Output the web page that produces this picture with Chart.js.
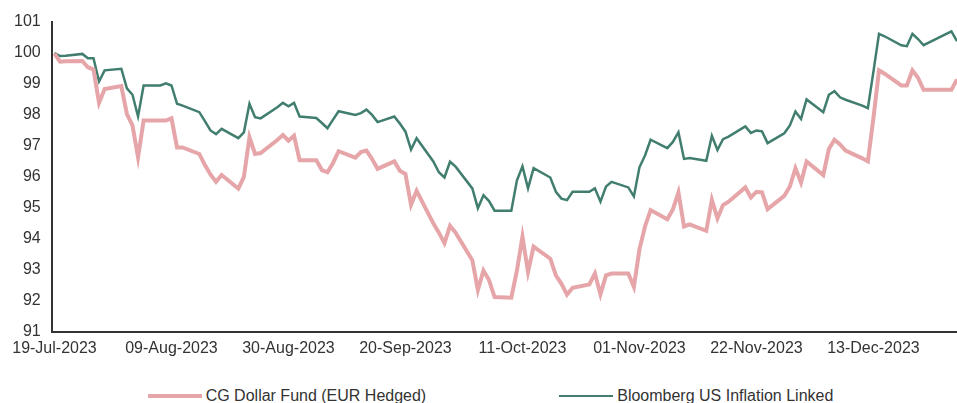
<!DOCTYPE html>
<html>
<head>
<meta charset="utf-8">
<script src="https://cdn.jsdelivr.net/npm/chart.js@4.4.0/dist/chart.umd.min.js"></script>
<style>
  body { margin: 0; background: #fff; overflow: hidden; }
  .wrap { position: relative; width: 957px; height: 373px; }
  #legend {
    position: absolute; top: 386px; left: 0; width: 957px; box-sizing: border-box;
    padding-left: 24px; display: flex; justify-content: center; gap: 133px;
    font: 16px 'Liberation Sans', Arial, sans-serif; line-height: 20px; color: #333;
  }
  .item { display: flex; align-items: center; white-space: nowrap; }
  .swatch { width: 54px; margin-right: 4px; }
</style>
</head>
<body>
<div class="wrap"><canvas id="grafica"></canvas></div>
<div id="legend"></div>
<script>
const seriesNames = ['CG Dollar Fund (EUR Hedged)', 'Bloomberg US Inflation Linked'];
const colors = ['#e6a5a8', '#417e6f'];
const widths = [4, 2.5];

// trading days (weekdays) between these dates
const startDate = '2023-07-19';
const endDate = '2023-12-28';

const tickLabels = ['19-Jul-2023', '09-Aug-2023', '30-Aug-2023', '20-Sep-2023',
                    '11-Oct-2023', '01-Nov-2023', '22-Nov-2023', '13-Dec-2023'];

const cgFund = [
  99.98, 99.72, 99.73,
  99.74, 99.54, 99.47, 98.39, 98.84,
  98.93, 98.03, 97.66, 96.63, 97.82,
  97.82, 97.82, 97.89, 96.95, 96.95,
  96.74, 96.38, 96.08, 95.84, 96.06,
  95.62, 96.00, 97.28, 96.74, 96.77,
  97.19, 97.35, 97.17, 97.33, 96.54,
  96.54, 96.22, 96.15, 96.45, 96.83,
  96.62, 96.80, 96.85, 96.58, 96.26,
  96.50, 96.20, 96.09, 95.10, 95.55,
  94.50, 94.20, 93.86, 94.42, 94.20,
  93.31, 92.35, 92.98, 92.67, 92.12,
  92.10, 92.97, 94.07, 92.93, 93.75,
  93.36, 92.82, 92.55, 92.20, 92.42,
  92.53, 92.88, 92.21, 92.82, 92.88,
  92.88, 92.45, 93.66, 94.40, 94.93,
  94.63, 94.95, 95.50, 94.40, 94.47,
  94.26, 95.26, 94.66, 95.09, 95.20,
  95.66, 95.34, 95.52, 95.50, 94.96,
  95.39, 95.69, 96.28, 95.82, 96.50,
  96.06, 96.90, 97.20, 97.05, 96.85,
  96.60, 96.50, 97.90, 99.44, 99.33,
  98.95, 98.95, 99.44, 99.20, 98.81,
  98.81, 98.81, 98.81, 99.15
];

const bloomberg = [
  100.00, 99.90, 99.91,
  99.97, 99.83, 99.83, 99.08, 99.44,
  99.49, 98.86, 98.65, 97.95, 98.95,
  98.95, 99.02, 98.95, 98.36, 98.30,
  98.09, 97.80, 97.50, 97.38, 97.55,
  97.25, 97.44, 98.36, 97.93, 97.89,
  98.25, 98.39, 98.28, 98.39, 97.95,
  97.90, 97.74, 97.57, 97.85, 98.12,
  98.00, 98.06, 98.17, 98.00, 97.77,
  97.95, 97.72, 97.46, 96.88, 97.25,
  96.50, 96.15, 95.98, 96.49, 96.33,
  95.63, 94.99, 95.41, 95.22, 94.91,
  94.91, 95.88, 96.34, 95.63, 96.28,
  95.98, 95.52, 95.30, 95.25, 95.52,
  95.52, 95.63, 95.20, 95.69, 95.84,
  95.66, 95.37, 96.31, 96.69, 97.20,
  96.93, 97.13, 97.44, 96.58, 96.61,
  96.52, 97.33, 96.87, 97.22, 97.30,
  97.63, 97.42, 97.50, 97.47, 97.09,
  97.41, 97.66, 98.11, 97.87, 98.50,
  98.09, 98.65, 98.77, 98.57, 98.49,
  98.30, 98.22, 99.40, 100.62, 100.54,
  100.25, 100.22, 100.62, 100.45, 100.25,
  100.52, 100.61, 100.70, 100.38
];

const DAY = 86400000;
const months = ['Jan', 'Feb', 'Mar', 'Apr', 'May', 'Jun', 'Jul', 'Aug', 'Sep', 'Oct', 'Nov', 'Dec'];
const toUTC = s => { const [y, m, d] = s.split('-').map(Number); return Date.UTC(y, m - 1, d); };
const t0 = toUTC(startDate);

const dayOffsets = [];
for (let t = t0; t <= toUTC(endDate); t += DAY) {
  const wd = new Date(t).getUTCDay();
  if (wd !== 0 && wd !== 6) dayOffsets.push((t - t0) / DAY);
}

const tickDays = tickLabels.map(l => {
  const [d, mon, y] = l.split('-');
  return (Date.UTC(+y, months.indexOf(mon), +d) - t0) / DAY;
});

const toPoints = values => dayOffsets.map((x, i) => ({ x: x, y: values[i] }));

Chart.defaults.font.family = "'Liberation Sans', Arial, sans-serif";
Chart.defaults.font.size = 16;
Chart.defaults.color = '#333';

const graph = document.querySelector('#grafica');

const data = {
  datasets: [cgFund, bloomberg].map((values, i) => ({
    label: seriesNames[i],
    data: toPoints(values),
    borderColor: colors[i],
    backgroundColor: colors[i],
    borderWidth: widths[i],
    pointRadius: 0,
    tension: 0
  }))
};

const axisBorder = { display: true, color: '#333', width: 2 };

const config = {
  type: 'line',
  data: data,
  options: {
    responsive: true,
    maintainAspectRatio: false,
    animation: false,
    layout: { padding: { left: 3, top: 22, right: 0, bottom: 8 } },
    plugins: { legend: { display: false }, tooltip: { enabled: false } },
    scales: {
      x: {
        type: 'linear',
        min: -0.5,
        max: 162,
        grid: { display: false, drawTicks: false },
        border: axisBorder,
        afterBuildTicks: axis => { axis.ticks = tickDays.map(v => ({ value: v })); },
        ticks: {
          autoSkip: false,
          maxRotation: 0,
          padding: 7,
          callback: (v, i) => tickLabels[i]
        }
      },
      y: {
        min: 91,
        max: 101,
        grid: { display: false, drawTicks: false },
        border: axisBorder,
        ticks: { stepSize: 1, padding: 11 }
      }
    }
  }
};

const myChart = new Chart(graph, config);

// html legend below the canvas
const legend = document.querySelector('#legend');
myChart.data.datasets.forEach(ds => {
  const item = document.createElement('div');
  item.className = 'item';
  const sw = document.createElement('span');
  sw.className = 'swatch';
  sw.style.height = ds.borderWidth + 'px';
  sw.style.background = ds.borderColor;
  item.appendChild(sw);
  item.appendChild(document.createTextNode(ds.label));
  legend.appendChild(item);
});
</script>
</body>
</html>
